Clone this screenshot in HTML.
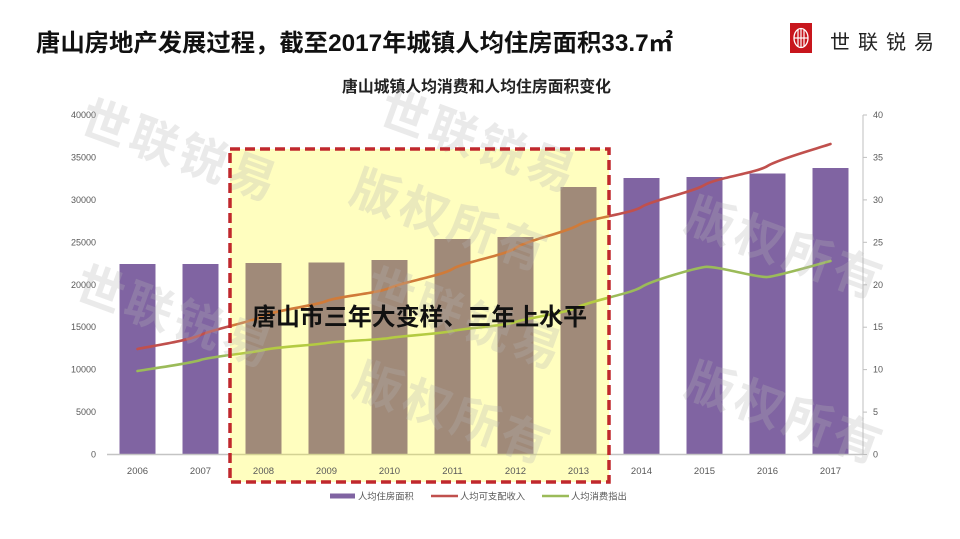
<!DOCTYPE html>
<html>
<head>
<meta charset="utf-8">
<style>
  html,body{margin:0;padding:0;background:#fff;}
  svg{display:block;}
  .cjk{font-family:"Liberation Sans","Noto Sans CJK SC",sans-serif;}
</style>
</head>
<body>
<svg width="960" height="539" viewBox="0 0 960 539" xmlns="http://www.w3.org/2000/svg">
  <rect width="960" height="539" fill="#ffffff"/>

  <!-- Title -->
  <text x="36" y="51" class="cjk" font-size="24" font-weight="bold" fill="#111" textLength="637" lengthAdjust="spacingAndGlyphs">唐山房地产发展过程，截至2017年城镇人均住房面积33.7㎡</text>

  <!-- Logo -->
  <rect x="790" y="23" width="22" height="30" fill="#c8161d"/>
  <ellipse cx="801" cy="38" rx="7" ry="9.5" fill="none" stroke="#fff" stroke-width="1.3"/>
  <line x1="798" y1="29" x2="798" y2="47" stroke="#fff" stroke-width="1.2"/>
  <line x1="801" y1="28.5" x2="801" y2="47.5" stroke="#fff" stroke-width="1.2"/>
  <line x1="804" y1="29" x2="804" y2="47" stroke="#fff" stroke-width="1.2"/>
  <line x1="794.5" y1="38" x2="807.5" y2="38" stroke="#fff" stroke-width="1.2"/>
  <text x="830" y="49" class="cjk" font-size="20" fill="#222" letter-spacing="8">世联锐易</text>

  <!-- Chart title -->
  <text x="342" y="92" class="cjk" font-size="15.8" font-weight="bold" fill="#222" textLength="269" lengthAdjust="spacingAndGlyphs">唐山城镇人均消费和人均住房面积变化</text>

  <!-- Left axis labels -->
  <g class="cjk" font-size="9" fill="#595959" text-anchor="end">
    <text x="96" y="118">40000</text>
    <text x="96" y="160.4">35000</text>
    <text x="96" y="202.9">30000</text>
    <text x="96" y="245.3">25000</text>
    <text x="96" y="287.8">20000</text>
    <text x="96" y="330.2">15000</text>
    <text x="96" y="372.6">10000</text>
    <text x="96" y="415.1">5000</text>
    <text x="96" y="457.5">0</text>
  </g>

  <!-- Right axis -->
  <line x1="863" y1="115" x2="863" y2="454.5" stroke="#bfbfbf" stroke-width="1"/>
  <g stroke="#bfbfbf" stroke-width="1">
    <line x1="863" y1="115" x2="867" y2="115"/>
    <line x1="863" y1="157.4" x2="867" y2="157.4"/>
    <line x1="863" y1="199.9" x2="867" y2="199.9"/>
    <line x1="863" y1="242.3" x2="867" y2="242.3"/>
    <line x1="863" y1="284.8" x2="867" y2="284.8"/>
    <line x1="863" y1="327.2" x2="867" y2="327.2"/>
    <line x1="863" y1="369.6" x2="867" y2="369.6"/>
    <line x1="863" y1="412.1" x2="867" y2="412.1"/>
    <line x1="863" y1="454.5" x2="867" y2="454.5"/>
  </g>
  <g class="cjk" font-size="9" fill="#595959">
    <text x="873" y="118">40</text>
    <text x="873" y="160.4">35</text>
    <text x="873" y="202.9">30</text>
    <text x="873" y="245.3">25</text>
    <text x="873" y="287.8">20</text>
    <text x="873" y="330.2">15</text>
    <text x="873" y="372.6">10</text>
    <text x="873" y="415.1">5</text>
    <text x="873" y="457.5">0</text>
  </g>

  <!-- Bars -->
  <g fill="#8064a2">
    <rect x="119.5" y="264" width="36" height="190.5"/>
    <rect x="182.5" y="264" width="36" height="190.5"/>
    <rect x="245.5" y="263" width="36" height="191.5"/>
    <rect x="308.5" y="262.5" width="36" height="192"/>
    <rect x="371.5" y="260" width="36" height="194.5"/>
    <rect x="434.5" y="239" width="36" height="215.5"/>
    <rect x="497.5" y="237" width="36" height="217.5"/>
    <rect x="560.5" y="187" width="36" height="267.5"/>
    <rect x="623.5" y="178" width="36" height="276.5"/>
    <rect x="686.5" y="177" width="36" height="277.5"/>
    <rect x="749.5" y="173.5" width="36" height="281"/>
    <rect x="812.5" y="168" width="36" height="286.5"/>
  </g>

  <!-- Baseline -->
  <line x1="107" y1="454.5" x2="863" y2="454.5" stroke="#c4c4c4" stroke-width="1.5"/>

  <!-- Income line (red) -->
  <path d="M137.5,349 C148,346.67 190,340.5 200.5,335 C211,329.5 253,321.67 263.5,316 C274,310.33 316,305.67 326.5,301 C337,296.33 379,293.33 389.5,288 C400,282.67 442,275.67 452.5,269 C463,262.33 505,255.33 515.5,248 C526,240.67 568,231.83 578.5,225 C589,218.17 631,213.67 641.5,207 C652,200.33 694,191.83 704.5,185 C715,178.17 757,172.83 767.5,166 C778,159.17 820,147.67 830.5,144" fill="none" stroke="#c0504d" stroke-width="2.6" stroke-linecap="round"/>

  <!-- Consumption line (green) -->
  <path d="M137.5,371 C148,369.17 190,363.5 200.5,360 C211,356.5 253,352.83 263.5,350 C274,347.17 316,345 326.5,343 C337,341 379,340 389.5,338 C400,336 442,333.67 452.5,331 C463,328.33 505,326 515.5,322 C526,318 568,312.83 578.5,307 C589,301.17 631,293.67 641.5,287 C652,280.33 694,268.67 704.5,267 C715,265.33 757,278 767.5,277 C778,276 820,263.67 830.5,261" fill="none" stroke="#9bbb59" stroke-width="2.6" stroke-linecap="round"/>

  <!-- Yellow highlight overlay -->
  <rect x="230" y="149" width="379" height="333" fill="rgb(255,250,0)" fill-opacity="0.25"/>

  <!-- Year labels -->
  <g class="cjk" font-size="9.5" fill="#595959" text-anchor="middle">
    <text x="137.5" y="474">2006</text>
    <text x="200.5" y="474">2007</text>
    <text x="263.5" y="474">2008</text>
    <text x="326.5" y="474">2009</text>
    <text x="389.5" y="474">2010</text>
    <text x="452.5" y="474">2011</text>
    <text x="515.5" y="474">2012</text>
    <text x="578.5" y="474">2013</text>
    <text x="641.5" y="474">2014</text>
    <text x="704.5" y="474">2015</text>
    <text x="767.5" y="474">2016</text>
    <text x="830.5" y="474">2017</text>
  </g>

  <!-- Watermarks -->
  <g class="cjk" font-size="48" font-weight="bold" fill="#b4b4b4" fill-opacity="0.28" text-anchor="middle" dominant-baseline="central" letter-spacing="4">
    <text transform="translate(180,152) rotate(20)">世联锐易</text>
    <text transform="translate(479,143) rotate(20)">世联锐易</text>
    <text transform="translate(175,318) rotate(20)">世联锐易</text>
    <text transform="translate(465,320) rotate(20)">世联锐易</text>
    <text transform="translate(450,222) rotate(20)">版权所有</text>
    <text transform="translate(785,250) rotate(20)">版权所有</text>
    <text transform="translate(453,415) rotate(20)">版权所有</text>
    <text transform="translate(785,415) rotate(20)">版权所有</text>
  </g>

  <!-- Dashed border -->
  <rect x="230" y="149" width="379" height="333" fill="none" stroke="#c0282d" stroke-width="3.5" stroke-dasharray="10 5"/>

  <!-- Overlay text -->
  <text x="252" y="325" class="cjk" font-size="24" font-weight="bold" fill="#111" textLength="335" lengthAdjust="spacingAndGlyphs">唐山市三年大变样、三年上水平</text>

  <!-- Legend -->
  <rect x="330" y="493.5" width="25" height="5" fill="#8064a2"/>
  <text x="358" y="499.5" class="cjk" font-size="9.3" fill="#595959">人均住房面积</text>
  <line x1="431" y1="496" x2="458" y2="496" stroke="#c0504d" stroke-width="2.5"/>
  <text x="460" y="499.5" class="cjk" font-size="9.3" fill="#595959">人均可支配收入</text>
  <line x1="542" y1="496" x2="569" y2="496" stroke="#9bbb59" stroke-width="2.5"/>
  <text x="571" y="499.5" class="cjk" font-size="9.3" fill="#595959">人均消费指出</text>
</svg>
</body>
</html>
